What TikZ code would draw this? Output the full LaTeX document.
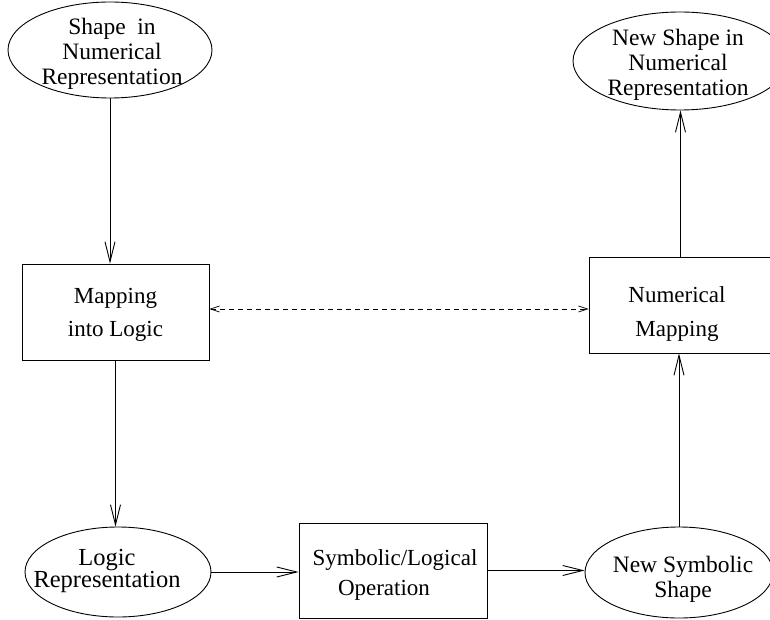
\documentclass[tikz,border=0pt]{standalone}
\usepackage{fontspec}
\setmainfont{Liberation Serif}
\usetikzlibrary{arrows.meta,shapes.geometric}
\tikzset{
  shp/.style={draw, ellipse, inner sep=0pt, line width=0.9pt},
  boxn/.style={draw, rectangle, inner sep=0pt, line width=0.9pt},
  btext/.style={align=center, inner sep=0pt, font=\fontsize{23}{32.5}\selectfont},
  etext/.style={align=center, inner sep=0pt, font=\fontsize{23.5}{25}\selectfont},
  arr/.style={line width=0.9pt, -{Straight Barb[length=20pt,width=10pt,line width=0.9pt]}},
  dasharr/.style={line width=0.7pt, dash pattern=on 5pt off 4pt,
    {Straight Barb[length=9pt,width=6pt,line width=0.7pt]}-{Straight Barb[length=9pt,width=6pt,line width=0.7pt]}}
}
\begin{document}
\begin{tikzpicture}[x=1pt,y=-1pt]
\useasboundingbox (0,0) rectangle (770,620);
\clip (0,0) rectangle (770,620);
% ellipses
\node[shp, minimum width=204pt, minimum height=96pt] (e1) at (110,50) {};
\node[etext] (t1) at (112,54) {Shape~ in\\Numerical\\Representation};
\node[shp, minimum width=214pt, minimum height=98pt] (e2) at (680,61) {};
\node[etext] (t2) at (678,65) {New Shape in\\Numerical\\Representation};
\node[shp, minimum width=186pt, minimum height=90pt] (e3) at (118,572) {};
\node[etext, font=\fontsize{24.5}{18}\selectfont] (t3) at (107,571) {Logic\\Representation};
\node[shp, minimum width=188pt, minimum height=91pt] (e4) at (679,572.5) {};
\node[etext] (t4) at (683,579) {New Symbolic\\Shape};
% boxes
\node[boxn, minimum width=187pt, minimum height=96pt] (b1) at (115.5,312) {};
\node[btext] (t5) at (115.5,315) {Mapping\\into Logic};
\node[boxn, minimum width=183pt, minimum height=96pt] (b2) at (680.5,305) {};
\node[btext, font=\fontsize{23}{34}\selectfont] (t6) at (677,314) {Numerical\\Mapping};
\node[boxn, minimum width=188pt, minimum height=95pt] (b3) at (393,570.5) {};
\node[btext, font=\fontsize{23}{30}\selectfont] (t7) at (395,574.5) {Symbolic/Logical\\\hspace*{-22pt}Operation};
% connectors
\coordinate (dl) at (0,309);
\draw[arr] (e1.south) -- (e1.south |- b1.north);
\draw[arr] (b1.south) -- (b1.south |- e3.north);
\draw[arr] (e3.east) -- (e3.east -| b3.west);
\draw[arr] (b3.east) -- (b3.east -| e4.west);
\draw[arr] (e4.north) -- (e4.north |- b2.south);
\draw[arr] (b2.north) -- (b2.north |- e2.south);
\draw[dasharr] (b1.east |- dl) -- (b2.west |- dl);
\end{tikzpicture}
\end{document}
